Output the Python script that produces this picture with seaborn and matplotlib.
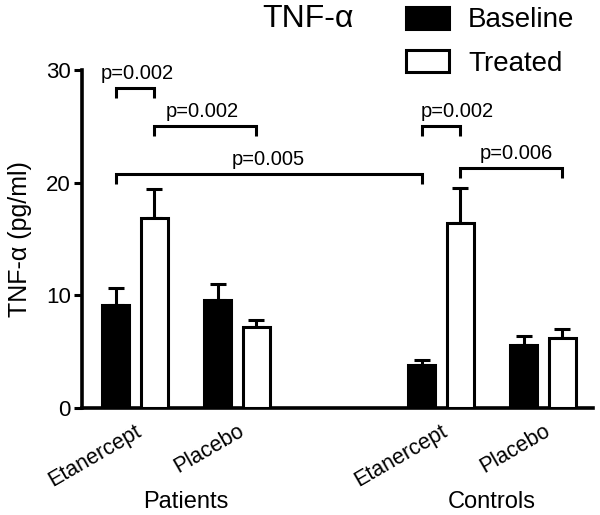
import numpy as np
import pandas as pd
import matplotlib
matplotlib.use("Agg")
import matplotlib.pyplot as plt
import matplotlib.patches as mpatches
import seaborn as sns

# ---------------- data ----------------
cohorts = ["Patients", "Patients", "Controls", "Controls"]
drugs = ["Etanercept", "Placebo", "Etanercept", "Placebo"]
conditions = ["Baseline", "Treated"]
baseline = [9.1, 9.6, 3.8, 5.6]
baseline_err = [1.55, 1.45, 0.45, 0.75]
treated = [16.9, 7.15, 16.4, 6.25]
treated_err = [2.55, 0.65, 3.1, 0.75]
y_ticks = [0, 10, 20, 30]
# p-value brackets: (slot_a, cond_a, slot_b, cond_b, label)
brackets = [
    (0, "Baseline", 0, "Treated", "p=0.002"),
    (0, "Treated", 1, "Treated", "p=0.002"),
    (0, "Baseline", 2, "Baseline", "p=0.005"),
    (2, "Baseline", 2, "Treated", "p=0.002"),
    (2, "Treated", 3, "Treated", "p=0.006"),
]
bracket_heights = [28.4, 25.05, 20.8, 25.0, 21.3]
label_dx = [0.02, -0.03, 0.0, 0.16, 0.05]

# ---------------- table ----------------
slot_names = [f"{c} {d}" for c, d in zip(cohorts, drugs)]
order = slot_names[:2] + ["gap"] + slot_names[2:]
rows = []
for i, name in enumerate(slot_names):
    rows.append(dict(slot=name, condition="Baseline", value=baseline[i], err=baseline_err[i]))
    rows.append(dict(slot=name, condition="Treated", value=treated[i], err=treated_err[i]))
df = pd.DataFrame(rows)

sns.set_style("ticks")
plt.rcParams["font.family"] = ["Liberation Sans", "DejaVu Sans"]
plt.rcParams.update({"text.color": "black", "axes.labelcolor": "black",
                     "xtick.color": "black", "ytick.color": "black",
                     "axes.edgecolor": "black"})

fig = plt.figure(figsize=(6.0, 5.15), dpi=100)
ax = fig.add_axes([82 / 600, 107 / 515, 511 / 600, 338 / 515])

sns.barplot(data=df, x="slot", y="value", hue="condition", order=order,
            hue_order=conditions, palette={"Baseline": "black", "Treated": "white"},
            edgecolor="black", linewidth=2.2, width=0.76, gap=0.3,
            errorbar=None, legend=False, ax=ax, zorder=3)

# error bars (upper only) from bar positions computed by seaborn
bar_pos = {}
bars = [p for p in ax.patches if isinstance(p, mpatches.Rectangle) and p.get_height() > 0]
bars.sort(key=lambda p: p.get_x())
for p in bars:
    cx = p.get_x() + p.get_width() / 2
    h = p.get_height()
    row = df[np.isclose(df["value"], h)].iloc[0]
    slot_idx = slot_names.index(row["slot"])
    bar_pos[(slot_idx, row["condition"])] = cx
    ax.errorbar(cx, h, yerr=[[0], [row["err"]]], fmt="none", ecolor="black",
                elinewidth=2.2, capsize=5.5, capthick=2.2, zorder=2)

# brackets
leg = 0.9
for (sa, ca, sb, cb, lab), yb, dx in zip(brackets, bracket_heights, label_dx):
    xa, xb = bar_pos[(sa, ca)], bar_pos[(sb, cb)]
    ax.plot([xa, xa, xb, xb], [yb - leg, yb, yb, yb - leg], color="black",
            lw=2.2, clip_on=False, solid_joinstyle="miter", solid_capstyle="butt")
    ax.annotate(lab, ((xa + xb) / 2 + dx, yb), xytext=(0, 3.5),
                textcoords="offset points", ha="center", va="bottom",
                fontsize=14.5, annotation_clip=False, color="black")

# axes styling
ax.set_ylim(0, 30)
ax.set_xlim(-0.52, 4.49)
ax.set_yticks(y_ticks)
ax.set_yticklabels([str(t) for t in y_ticks])
ax.tick_params(axis="y", length=6, width=2.2, labelsize=16, pad=2, color="black",
               labelcolor="black")
ax.set_xticks(range(len(order)))
ax.set_xticklabels([d for d in drugs[:2]] + [""] + [d for d in drugs[2:]])
ax.tick_params(axis="x", length=0, labelsize=15.5, pad=9, labelcolor="black")
for t in ax.get_xticklabels():
    t.set_rotation(30)
    t.set_ha("right")
    t.set_va("top")
    t.set_rotation_mode("anchor")
for side in ["top", "right"]:
    ax.spines[side].set_visible(False)
for side in ["left", "bottom"]:
    ax.spines[side].set_linewidth(2.6)
    ax.spines[side].set_color("black")
ax.set_xlabel("")
ax.set_ylabel("TNF-α (pg/ml)", fontsize=18, labelpad=10, color="black")
ax.set_facecolor("white")
ax.grid(False)

# cohort labels
trans = matplotlib.transforms.blended_transform_factory(ax.transData, fig.transFigure)
ax.text(0.5, 1 - 502 / 515, "Patients", transform=trans, ha="center", va="center",
        fontsize=17, color="black")
ax.text(3.5, 1 - 502 / 515, "Controls", transform=trans, ha="center", va="center",
        fontsize=17, color="black")

# title + legend
fig.text(262 / 600, 1 - 19 / 515, "TNF-α", ha="left", va="center", fontsize=23,
         color="black")
handles = [mpatches.Patch(facecolor="black", edgecolor="black", linewidth=2.2),
           mpatches.Patch(facecolor="white", edgecolor="black", linewidth=2.2)]
fig.legend(handles, conditions, loc="upper left", bbox_to_anchor=(400 / 600, 1 - 1 / 515),
           frameon=False, fontsize=20, handlelength=1.55, handleheight=0.85,
           handletextpad=0.7, labelspacing=0.6, borderaxespad=0, borderpad=0.2,
           labelcolor="black")

fig.savefig("out.png", dpi=100, facecolor="white")
